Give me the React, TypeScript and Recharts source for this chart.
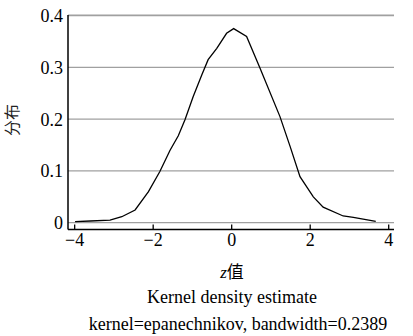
import { CartesianGrid, Line, LineChart, XAxis, YAxis } from "recharts";

// kernel density curve
const zValues = [
  -3.99, -3.6, -3.1, -2.8, -2.46, -2.12, -1.83, -1.57, -1.36, -1.19, -0.98, -0.76, -0.6, -0.38,
  -0.13, 0.05, 0.38, 0.72, 1.23, 1.49, 1.74, 2.08, 2.33, 2.84, 3.1, 3.67
];
const densityValues = [
  0.002, 0.0033, 0.005, 0.0116, 0.0246, 0.06, 0.099, 0.14, 0.168, 0.199, 0.244, 0.286, 0.315,
  0.337, 0.366, 0.375, 0.36, 0.299, 0.205, 0.147, 0.089, 0.05, 0.03, 0.013, 0.0104, 0.0027
];
const xTicks = [-4, -2, 0, 2, 4];
const yTicks = [0, 0.1, 0.2, 0.3, 0.4];
const yTickLabels = ["0", "0.1", "0.2", "0.3", "0.4"];

const xTitle = "值";
const yTitle = "分布";
const title = "Kernel density estimate";
const note = "kernel=epanechnikov, bandwidth=0.2389";

// serif wanted, but the sandbox falls back to a sans face anyway
const font = "'Liberation Serif', 'Times New Roman', serif";
const cjkFont = "'Liberation Serif', 'Noto Sans CJK SC', serif";

const data = zValues.map((z, i) => ({ z, density: densityValues[i] }));

function XTick(props: any) {
  const { x, y, payload } = props;
  const axisY = y - 6;
  const label = payload.value < 0 ? `\u2212${Math.abs(payload.value)}` : `${payload.value}`;
  return (
    <g>
      <line x1={x} x2={x} y1={axisY} y2={axisY - 5} stroke="#000" strokeWidth={1.3} />
      <text x={x} y={axisY + 16} textAnchor="middle" fontSize={18} fontFamily={font} fill="#000">
        {label}
      </text>
    </g>
  );
}

export default function App() {
  return (
    <div style={{ position: "absolute", left: 0, top: 0, width: 413, height: 336, background: "#fff", fontFamily: font }}>
      <LineChart
        width={413}
        height={336}
        data={data}
        margin={{ top: 15, right: 19, left: 8, bottom: 76.5 }}
      >
        <CartesianGrid horizontal vertical={false} stroke="#a0a0a0" strokeWidth={1.2} />
        <XAxis
          dataKey="z"
          type="number"
          domain={[-4.17, 4.135]}
          ticks={xTicks}
          height={30}
          tickSize={4}
          tickMargin={2}
          tickLine={false}
          axisLine={{ stroke: "#000", strokeWidth: 1.5 }}
          tick={<XTick />}
          interval={0}
        />
        <YAxis
          type="number"
          domain={[-0.0131, 0.4013]}
          ticks={yTicks}
          width={60}
          tickSize={3}
          tickMargin={2}
          tickLine={false}
          axisLine={{ stroke: "#000", strokeWidth: 1.5 }}
          tickFormatter={(v: number) => yTickLabels[yTicks.indexOf(v)] ?? String(v)}
          tick={{ fill: "#000", fontSize: 18, fontFamily: font }}
          interval={0}
        />
        <Line
          type="linear"
          dataKey="density"
          stroke="#000"
          strokeWidth={1.3}
          dot={false}
          isAnimationActive={false}
        />
      </LineChart>
      <div
        style={{
          position: "absolute",
          left: 13 - 30,
          top: 120 - 10,
          width: 60,
          height: 20,
          lineHeight: "20px",
          textAlign: "center",
          fontSize: 16,
          fontFamily: cjkFont,
          transform: "rotate(-90deg)",
          color: "#222"
        }}
      >
        {yTitle}
      </div>
      <div
        style={{
          position: "absolute",
          left: 232 - 50,
          top: 273 - 11,
          width: 100,
          lineHeight: "22px",
          textAlign: "center",
          fontSize: 17,
          fontFamily: cjkFont
        }}
      >
        <i>z</i>
        {xTitle}
      </div>
      <div
        style={{
          position: "absolute",
          left: 232 - 150,
          top: 297 - 11,
          width: 300,
          lineHeight: "22px",
          textAlign: "center",
          fontSize: 18
        }}
      >
        {title}
      </div>
      <div
        style={{
          position: "absolute",
          left: 238 - 200,
          top: 324 - 11,
          width: 400,
          lineHeight: "22px",
          textAlign: "center",
          fontSize: 18,
          whiteSpace: "nowrap"
        }}
      >
        {note}
      </div>
    </div>
  );
}
